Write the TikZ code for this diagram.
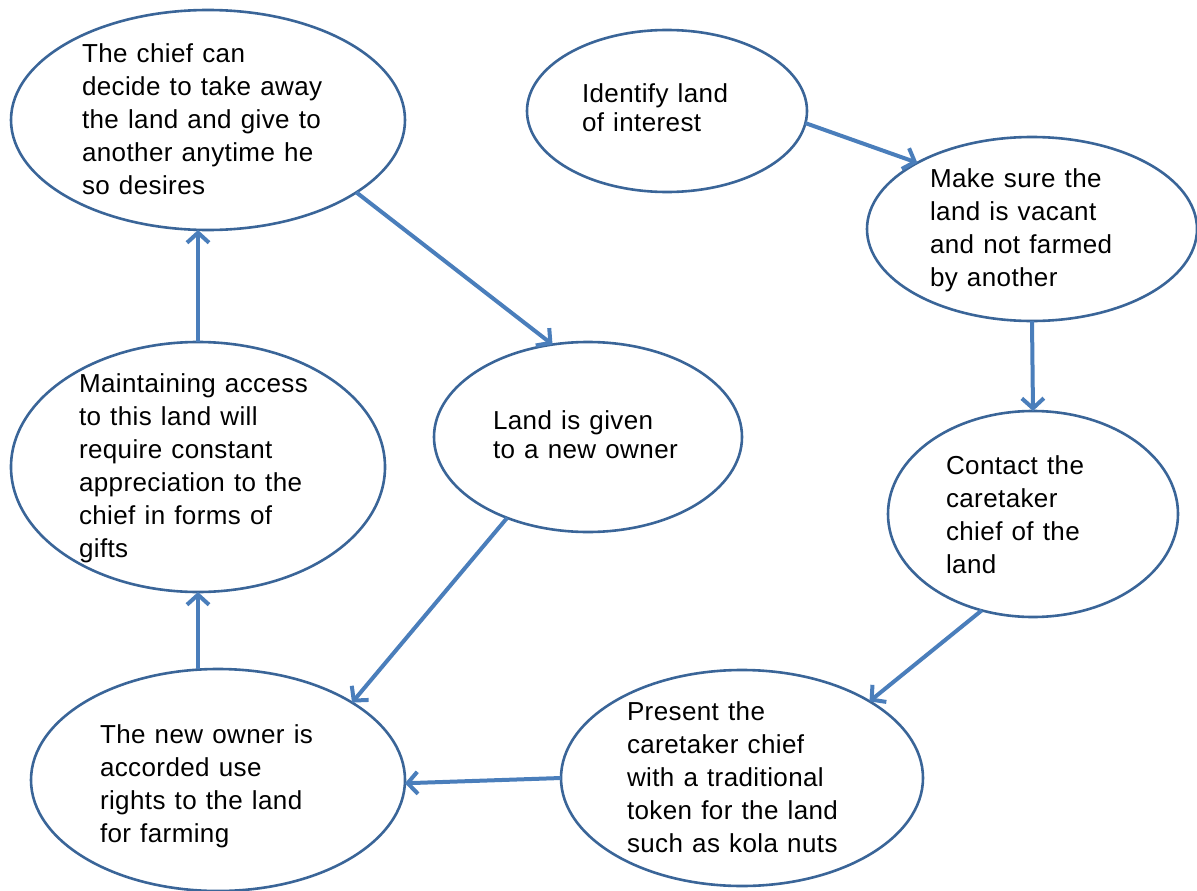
\documentclass[tikz,border=0pt]{standalone}
\usepackage{fontspec}
\setmainfont{Liberation Sans}[LetterSpace=1.5,WordSpace=1.2]
\usetikzlibrary{arrows.meta,shapes.geometric}
\definecolor{rimblue}{HTML}{3A6598}
\definecolor{flowblue}{HTML}{4A7EBB}
\begin{document}
\begin{tikzpicture}[x=1pt,y=-1pt,
  bubble/.style={ellipse, draw=rimblue, line width=2.6pt, fill=white, inner sep=0pt, outer sep=0pt},
  bodytext/.style={anchor=north west, inner sep=0pt, outer sep=0pt, align=left, font=\fontsize{26}{33}\selectfont},
  tight/.style={font=\fontsize{26}{29}\selectfont},
  flow/.style={draw=flowblue, line width=4pt, -{Straight Barb[length=10pt,width=22pt]}}
]
\useasboundingbox (0,0) rectangle (1197,891);

% the eight stages
\node[bubble, minimum width=394pt, minimum height=220pt] (chief)    at (208,120) {};
\node[bubble, minimum width=280pt, minimum height=162pt] (identify) at (667,111) {};
\node[bubble, minimum width=330pt, minimum height=184pt] (vacant)   at (1032,229) {};
\node[bubble, minimum width=290pt, minimum height=206pt] (contact)  at (1033,514) {};
\node[bubble, minimum width=362pt, minimum height=216pt] (token)    at (742,778) {};
\node[bubble, minimum width=374pt, minimum height=222pt] (rights)   at (218,780) {};
\node[bubble, minimum width=374pt, minimum height=250pt] (gifts)    at (198,467) {};
\node[bubble, minimum width=308pt, minimum height=190pt] (given)    at (588,437) {};

% their texts
\node[bodytext] (t-chief) at (82,44) {The chief can\\decide to take away\\the land and give to\\another anytime he\\so desires};
\node[bodytext, tight] (t-identify) at (582,84) {Identify land\\of interest};
\node[bodytext] (t-vacant) at (930,169) {Make sure the\\land is vacant\\and not farmed\\by another};
\node[bodytext] (t-contact) at (946,456) {Contact the\\caretaker\\chief of the\\land};
\node[bodytext] (t-token) at (627,702) {Present the\\caretaker chief\\with a traditional\\token for the land\\such as kola nuts};
\node[bodytext] (t-rights) at (100,725) {The new owner is\\accorded use\\rights to the land\\for farming};
\node[bodytext] (t-gifts) at (79,374) {Maintaining access\\to this land will\\require constant\\appreciation to the\\chief in forms of\\gifts};
\node[bodytext, tight] (t-given) at (493,411) {Land is given\\to a new owner};

% the cycle
\draw[flow] (identify.-5.7) -- (vacant.150);
\draw[flow] (vacant.south) -- (contact.north);
\draw[flow] (contact.-118.5) -- (token.31);
\draw[flow] (token.west) -- (rights.-1.2);
\draw[flow] (gifts.south |- rights.north) -- (gifts.south);
\draw[flow] (gifts.north) -- (gifts.north |- chief.south);
\draw[flow] (chief.-26.6) -- (given.111.4);
\draw[flow] (given.-135.6) -- (rights.30.3);
\end{tikzpicture}
\end{document}
